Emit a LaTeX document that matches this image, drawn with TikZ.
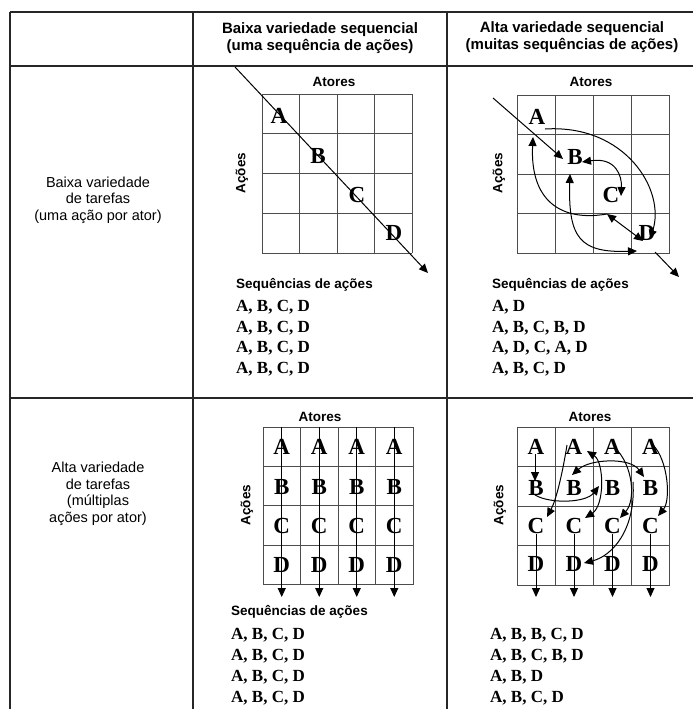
\documentclass[tikz,border=0pt]{standalone}
\usepackage{fontspec}
\setmainfont{Liberation Serif}
\setsansfont{Liberation Sans}
\usetikzlibrary{arrows.meta}
\begin{document}
\begin{tikzpicture}[x=1pt,y=-1pt,
  tbl/.style={line width=1.5pt, draw=black!85},
  grd/.style={line width=0.8pt, draw=black!70},
  arr/.style={line width=1pt, -{Triangle[length=9pt,width=8pt]}},
  darr/.style={line width=1pt, {Triangle[length=9pt,width=8pt]}-{Triangle[length=9pt,width=8pt]}},
  hdr/.style={font=\sffamily\bfseries\fontsize{15}{16.5}\selectfont, align=center, inner sep=0pt},
  lbl/.style={font=\sffamily\bfseries\fontsize{13.5}{15}\selectfont, inner sep=0pt},
  side/.style={font=\sffamily\fontsize{14.5}{16.5}\selectfont, align=center, inner sep=0pt},
  let/.style={font=\rmfamily\bfseries\fontsize{23}{23}\selectfont, inner sep=0pt},
  seq/.style={font=\rmfamily\bfseries\fontsize{17}{20}\selectfont, anchor=west, inner sep=0pt},
]
\useasboundingbox (0,0) rectangle (693,709);
\fill[white] (0,0) rectangle (693,709);

% table
\draw[tbl] (10,12) -- (693,12);
\draw[tbl] (10,66) -- (693,66);
\draw[tbl] (10,398) -- (693,398);
\draw[tbl] (10,12) -- (10,709);
\draw[tbl] (193,12) -- (193,709);
\draw[tbl] (447,12) -- (447,709);

% headers
\node[hdr] (h1) at (320,38) {Baixa variedade sequencial\\(uma sequência de ações)};
\node[hdr] (h2) at (572,37) {Alta variedade sequencial\\(muitas sequências de ações)};
\node[side] (r1) at (98,200) {Baixa variedade\\de tarefas\\(uma ação por ator)};
\node[side] (r2) at (98,494) {Alta variedade\\de tarefas\\(múltiplas\\ações por ator)};

% ---------- Q1 ----------
\foreach \i in {0,...,4} {
  \draw[grd] ({262+37.5*\i},94) -- ({262+37.5*\i},253);
  \draw[grd] (262,{94+39.75*\i}) -- (412,{94+39.75*\i});
}
\node[lbl] (q1at) at (334,82) {Atores};
\node[lbl, rotate=90] (q1ac) at (242,173) {Ações};
\coordinate (q1s) at (235,67);
\coordinate (q1e) at (428,273);
\draw[arr] (q1s) -- (q1e);
\node[let] (q1A) at (279,116) {A};
\node[let] (q1B) at (318,156) {B};
\node[let] (q1C) at (357,195) {C};
\node[let] (q1D) at (394,233) {D};
\node[lbl, anchor=west] (q1sq) at (236,285) {Sequências de ações};
\node[seq] (q1l1) at (236,307) {A, B, C, D};
\node[seq] (q1l2) at (236,328) {A, B, C, D};
\node[seq] (q1l3) at (236,348) {A, B, C, D};
\node[seq] (q1l4) at (236,369) {A, B, C, D};

% ---------- Q2 ----------
\foreach \i in {0,...,4} {
  \draw[grd] ({517+38.125*\i},95) -- ({517+38.125*\i},253);
  \draw[grd] (517,{95+39.5*\i}) -- (669.5,{95+39.5*\i});
}
\node[lbl] (q2at) at (591,82) {Atores};
\node[lbl, rotate=90] (q2ac) at (499,173) {Ações};
\coordinate (q2s) at (493,98);
\coordinate (q2b) at (563,159);
\draw[arr] (q2s) -- (q2b);
\coordinate (q2a1) at (545,129);
\coordinate (q2d1) at (650,239);
\draw[arr] (q2a1) .. controls (625,124) and (666,190) .. (q2d1);
\coordinate (q2b2) at (582,162);
\coordinate (q2c2) at (621,196);
\draw[darr] (q2b2) .. controls (616,157) and (622,176) .. (q2c2);
\coordinate (q2c3) at (607,214);
\coordinate (q2d3) at (643,241);
\draw[darr] (q2c3) -- (q2d3);
\coordinate (q2a4) at (533,137);
\draw[arr] (q2c3) .. controls (560,222) and (530,200) .. (q2a4);
\coordinate (q2b5) at (570,174);
\coordinate (q2d5) at (637,251);
\draw[darr] (q2b5) .. controls (568,238) and (580,253) .. (q2d5);
\coordinate (q2x) at (655,252);
\coordinate (q2y) at (679,277);
\draw[arr] (q2x) -- (q2y);
\node[let] (q2A) at (537,117) {A};
\node[let] (q2B) at (575,157) {B};
\node[let] (q2C) at (611,195) {C};
\node[let] (q2D) at (647,233) {D};
\node[lbl, anchor=west] (q2sq) at (492,285) {Sequências de ações};
\node[seq] (q2l1) at (492,307) {A, D};
\node[seq] (q2l2) at (492,328) {A, B, C, B, D};
\node[seq] (q2l3) at (492,348) {A, D, C, A, D};
\node[seq] (q2l4) at (492,369) {A, B, C, D};

% ---------- Q3 ----------
\foreach \i in {0,...,4} {
  \draw[grd] ({263+37.5*\i},427) -- ({263+37.5*\i},584.5);
  \draw[grd] (263,{427+39.375*\i}) -- (413,{427+39.375*\i});
}
\node[lbl] (q3at) at (320,417) {Atores};
\node[lbl, rotate=90] (q3ac) at (247,505) {Ações};
\foreach \c [count=\k] in {281.75,319.25,356.75,394.25} {
  \coordinate (q3t\k) at (\c,427);
  \coordinate (q3e\k) at (\c,597);
  \draw[arr] (q3t\k) -- (q3e\k);
  \node[let] (q3A\k) at (\c,447) {A};
  \node[let] (q3B\k) at (\c,486.5) {B};
  \node[let] (q3C\k) at (\c,525.5) {C};
  \node[let] (q3D\k) at (\c,565) {D};
}
\node[lbl, anchor=west] (q3sq) at (231,612) {Sequências de ações};
\node[seq] (q3l1) at (231,635) {A, B, C, D};
\node[seq] (q3l2) at (231,656) {A, B, C, D};
\node[seq] (q3l3) at (231,677) {A, B, C, D};
\node[seq] (q3l4) at (231,698) {A, B, C, D};

% ---------- Q4 ----------
\foreach \i in {0,...,4} {
  \draw[grd] ({517+38.125*\i},427) -- ({517+38.125*\i},585);
  \draw[grd] (517,{427+39.5*\i}) -- (669.5,{427+39.5*\i});
}
\node[lbl] (q4at) at (590,417) {Atores};
\node[lbl, rotate=90] (q4ac) at (500,505) {Ações};
\foreach \c [count=\k] in {536,574,612.5,650.5} {
  \coordinate (q4t\k) at (\c,534);
  \coordinate (q4e\k) at (\c,597);
  \draw[arr] (q4t\k) -- (q4e\k);
}
\coordinate (q4a1) at (535,454);
\coordinate (q4b1) at (535,481);
\draw[arr] (q4a1) -- (q4b1);
\coordinate (q4b1s) at (535,495);
\coordinate (q4b3) at (599,486);
\draw[arr] (q4b1s) .. controls (550,504) and (586,503) .. (q4b3);
\coordinate (q4a2) at (567,445);
\coordinate (q4c1) at (547,517);
\draw[arr] (q4a2) .. controls (562,476) and (556,500) .. (q4c1);
\coordinate (q4a2r) at (587,451);
\coordinate (q4c2) at (585,518);
\draw[darr] (q4a2r) .. controls (604,462) and (605,505) .. (q4c2);
\coordinate (q4b2) at (572,475);
\coordinate (q4b4) at (644,477);
\draw[darr] (q4b2) .. controls (590,459) and (630,457) .. (q4b4);
\coordinate (q4a3) at (615,448);
\coordinate (q4c3) at (620,518);
\draw[arr] (q4a3) .. controls (633,465) and (636,500) .. (q4c3);
\coordinate (q4b3s) at (633,482);
\coordinate (q4d2) at (584,563);
\draw[arr] (q4b3s) .. controls (636,530) and (612,556) .. (q4d2);
\coordinate (q4a4) at (653,445);
\coordinate (q4c4) at (658,516);
\draw[arr] (q4a4) .. controls (668,460) and (671,500) .. (q4c4);
\foreach \c [count=\k] in {536,574,612.5,650.5} {
  \node[let] (q4A\k) at (\c,447) {A};
  \node[let] (q4B\k) at (\c,488) {B};
  \node[let] (q4C\k) at (\c,526) {C};
  \node[let] (q4D\k) at (\c,564) {D};
}
\node[seq] (q4l1) at (490,635) {A, B, B, C, D};
\node[seq] (q4l2) at (490,656) {A, B, C, B, D};
\node[seq] (q4l3) at (490,677) {A, B, D};
\node[seq] (q4l4) at (490,698) {A, B, C, D};
\end{tikzpicture}
\end{document}
